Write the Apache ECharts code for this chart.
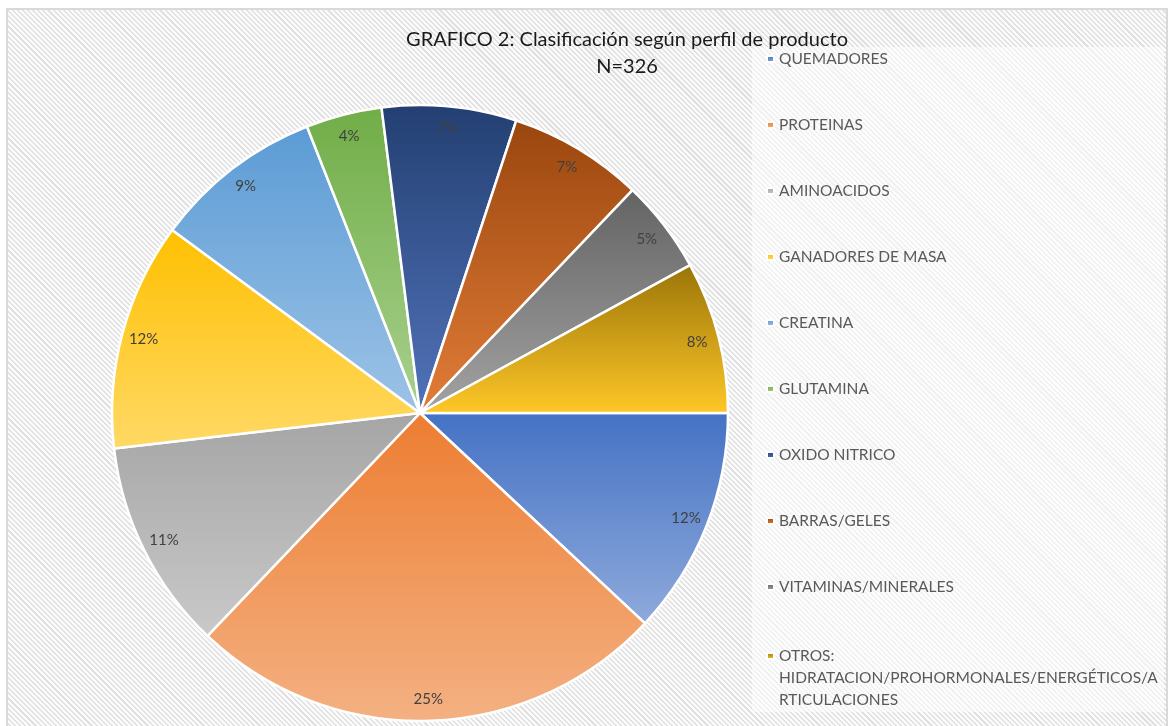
<!DOCTYPE html>
<html>
<head>
<meta charset="utf-8">
<script src="https://cdn.jsdelivr.net/npm/echarts@6/dist/echarts.min.js"></script>
<style>
html,body{margin:0;padding:0;background:#fff;}
#frame{position:absolute;left:6px;top:8px;width:1158px;height:740px;border:2px solid #d9d9d9;
 background:repeating-linear-gradient(45deg,#e1e1e1 0px,#e1e1e1 1.5px,#fbfbfb 1.5px,#fbfbfb 3.6px);}
#chart{position:absolute;left:0;top:0;width:1174px;height:726px;}
</style>
</head>
<body>
<div id="frame"></div>
<div id="chart"></div>
<script>
const titleText = 'GRAFICO 2: Clasificación según perfil de producto';
const categories = ['QUEMADORES','PROTEINAS','AMINOACIDOS','GANADORES DE MASA','CREATINA','GLUTAMINA','OXIDO NITRICO','BARRAS/GELES','VITAMINAS/MINERALES','OTROS: HIDRATACION/PROHORMONALES/ENERGÉTICOS/ARTICULACIONES'];
const counts = [39, 82, 36, 39, 29, 13, 23, 23, 16, 26];
const lastLegendLines = ['OTROS:', 'HIDRATACION/PROHORMONALES/ENERGÉTICOS/A', 'RTICULACIONES'];

const topColors = ['#4472C4','#ED7D31','#A5A5A5','#FFC000','#5B9BD5','#70AD47','#233F72','#9A460E','#636363','#9A7408'];
const bottomColors = ['#8FAADC','#F4B183','#C9C9C9','#FFD966','#9DC3E6','#A9D18E','#5273B9','#E27D38','#A3A3A3','#FFC828'];

const total = counts.reduce((a, b) => a + b, 0);
const chart = echarts.init(document.getElementById('chart'), null, {renderer: 'canvas'});
const FONT = 'Lato';
const LEG_FS = 15.5;

const pieData = categories.map((c, i) => ({
  name: c,
  value: counts[i],
  itemStyle: {
    color: new echarts.graphic.LinearGradient(0, 0, 0, 1, [
      {offset: 0, color: topColors[i]},
      {offset: 1, color: bottomColors[i]}
    ])
  }
}));
const labelData = categories.map((c, i) => ({name: c, value: counts[i]}));
const lastName = categories[categories.length - 1];

const legendCommon = {
  orient: 'vertical',
  left: 752,
  padding: [0, 4, 0, 14],
  icon: 'rect',
  itemWidth: 7,
  itemHeight: 6,
  itemGap: 44,
  selectedMode: false
};

chart.setOption({
  animation: false,
  backgroundColor: 'transparent',
  graphic: [
    {type: 'rect', z: 0, silent: true, shape: {x: 752, y: 47, width: 412, height: 665},
     style: {fill: 'rgba(255,255,255,0.55)'}},
    {type: 'text', z: 10, silent: true, x: 627, y: 26,
     style: {text: titleText + '\nN=' + total, align: 'center', verticalAlign: 'top',
             font: '20px ' + FONT, fill: '#1a1a1a', lineHeight: 27}}
  ],
  legend: [
    Object.assign({}, legendCommon, {
      top: 48,
      data: categories.slice(0, categories.length - 1),
      textStyle: {fontFamily: FONT, fontSize: LEG_FS, color: '#595959', lineHeight: 22}
    }),
    Object.assign({}, legendCommon, {
      top: 615,
      data: [lastName],
      formatter: function () {
        return '{s| }\n' + lastLegendLines.map(l => '{a|' + l + '}').join('\n');
      },
      textStyle: {
        fontFamily: FONT, fontSize: LEG_FS, color: '#595959',
        rich: {
          s: {lineHeight: 44, fontSize: LEG_FS, fontFamily: FONT},
          a: {lineHeight: 22, fontSize: LEG_FS, fontFamily: FONT, color: '#595959'}
        }
      }
    })
  ],
  series: [
    {
      type: 'pie',
      center: [420, 413],
      radius: [0, 308],
      startAngle: 0,
      clockwise: true,
      avoidLabelOverlap: false,
      label: {show: false},
      labelLine: {show: false},
      emphasis: {disabled: true},
      itemStyle: {borderColor: '#ffffff', borderWidth: 2.5},
      data: pieData
    },
    {
      type: 'pie',
      center: [420, 413],
      radius: [258, 308],
      startAngle: 0,
      clockwise: true,
      silent: true,
      avoidLabelOverlap: false,
      percentPrecision: 0,
      itemStyle: {color: 'rgba(0,0,0,0)', borderWidth: 0},
      label: {show: true, position: 'inside', formatter: '{d}%', fontFamily: FONT, fontSize: 15, color: '#404040'},
      labelLine: {show: false},
      emphasis: {disabled: true},
      data: labelData
    }
  ]
});
</script>
</body>
</html>
